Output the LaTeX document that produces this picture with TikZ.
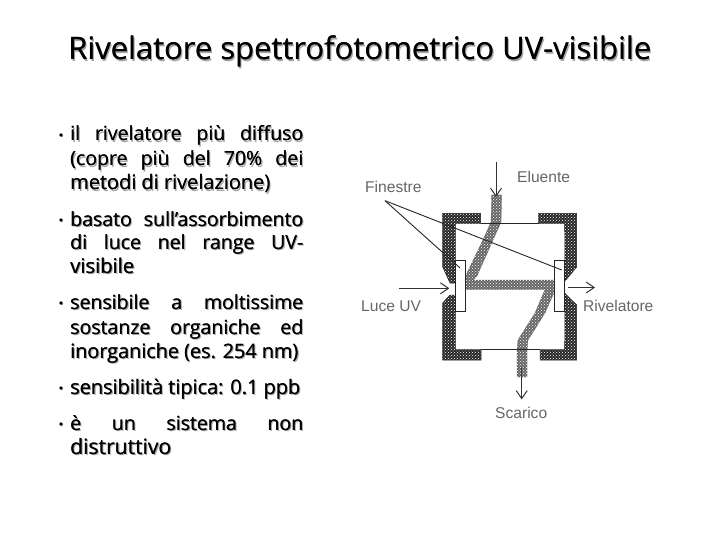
\documentclass[tikz,border=0pt]{standalone}
\usepackage{fontspec}
\usepackage{graphicx}
\setmainfont{Open Sans}
\newfontfamily\labelfont{Liberation Sans}
\usetikzlibrary{patterns,arrows.meta}
\tikzset{
  wall/.style={fill=black!85,draw=black!85,line width=0.5pt},
  liquid/.style={fill=black!60,draw=black!60,line width=0.3pt},
  dots/.style={pattern=crosshatch dots,pattern color=white},
  thin line/.style={draw=black!85,line width=0.8pt},
  arrowline/.style={draw=black!80,line width=1pt,-{Straight Barb[length=8pt,width=11pt]}},
  leader/.style={draw=black!85,line width=0.9pt},
  lab/.style={text=black!60,font=\labelfont\fontsize{15.6}{17}\selectfont,inner sep=0pt},
  body/.style={anchor=base west,inner sep=0pt,font=\fontsize{19.5}{21}\selectfont},
  shadow/.style={body,text=black!35},
}
% name, x left, baseline y, width, text: line scaled to the width
\newcommand{\tline}[5]{%
  \node[shadow] at (#2+1.4,#3+1.4) {\resizebox{#4pt}{!}{#5}};
  \node[body] at (#2+0.35,#3) {\resizebox{#4pt}{!}{#5}};
  \node[body] (#1) at (#2,#3) {\resizebox{#4pt}{!}{#5}};}
% name, x left, baseline y, width, text: word spaces stretched to the width
\newcommand{\jline}[5]{%
  \node[shadow] at (#2+1.4,#3+1.4) {\makebox[#4pt][s]{#5}};
  \node[body] at (#2+0.35,#3) {\makebox[#4pt][s]{#5}};
  \node[body] (#1) at (#2,#3) {\makebox[#4pt][s]{#5}};}
\newcommand{\bul}[3]{%
  \fill[black!35] (#2+1,#3+1) circle (1.4);
  \node[circle,fill=black,inner sep=1.4pt] (#1) at (#2,#3) {};}
\begin{document}
\begin{tikzpicture}[x=1pt,y=-1pt]
\useasboundingbox[fill=white] (0,0) rectangle (720,540);
% title
\tline{title}{68}{60}{583}{\fontsize{27}{30}\selectfont Rivelatore spettrofotometrico UV-visibile}
% bullets
\bul{b1}{61}{135}
\jline{l1}{70}{141}{233}{il rivelatore più diffuso}
\jline{l2}{70}{166}{233}{(copre più del 70\% dei}
\tline{l3}{70}{190}{200}{metodi di rivelazione)}
\bul{b2}{61}{220}
\jline{l4}{70}{226}{233}{basato sull’assorbimento}
\jline{l5}{70}{249}{233}{di luce nel range UV-}
\tline{l6}{70}{273}{64}{visibile}
\bul{b3}{61}{303}
\jline{l7}{70}{309}{233}{sensibile a moltissime}
\jline{l8}{70}{334}{233}{sostanze organiche ed}
\tline{l9}{70}{358}{228}{inorganiche (es. 254 nm)}
\bul{b4}{61}{388}
\tline{l10}{70}{394}{230}{sensibilità tipica: 0.1 ppb}
\bul{b5}{61}{424}
\jline{l11}{70}{430}{233}{è un sistema non}
\tline{l12}{70}{454}{101}{distruttivo}
% cell walls
\foreach \s in {wall,dots}{
  \path[\s] (442.7,213.3)--(480.7,213.3)--(480.7,223.5)--(455.3,223.5)--(455.3,283)--(450,283)--(442.7,267)--cycle;
  \path[\s] (538.7,213.3)--(576.7,213.3)--(576.7,267)--(565,281)--(564.7,223.5)--(538.7,223.5)--cycle;
  \path[\s] (450,295)--(455.3,295)--(455.3,349.5)--(481,349.5)--(481,360)--(442.7,360)--(442.7,303)--cycle;
  \path[\s] (565,293.5)--(576.7,305)--(576.7,360)--(540,360)--(540,349.5)--(564.7,349.5)--cycle;
}
% liquid path
\foreach \s in {liquid,dots}{
  \path[\s] (491.7,195)--(501.7,195)--(501,222)--(493,240)--(477,276)--(473,280)--(554.7,280)--(554.7,291)--(545,313)--(528,340)--(527,350)--(527,377)--(517,377)--(517,350)--(518,340)--(535,313)--(545,289.5)--(465.3,289.5)--(465.3,280)--(467,273)--(483,240)--(491,222)--cycle;
}
% chamber lines
\coordinate (tl) at (480.7,223.3);
\coordinate (tr) at (538.7,223.3);
\coordinate (bl) at (481,349.5);
\coordinate (br) at (540,349.5);
\draw[thin line] (tl) -- (tr);
\draw[thin line] (bl) -- (br);
% windows
\coordinate (wl1) at (455.3,260.7);
\coordinate (wl2) at (465.3,260.7);
\coordinate (wl3) at (465.3,311.7);
\coordinate (wl4) at (455.3,311.7);
\draw[thin line,fill=white] (wl1) -- (wl2) -- (wl3) -- (wl4) -- cycle;
\coordinate (wr1) at (554.7,260.7);
\coordinate (wr2) at (564.7,260.7);
\coordinate (wr3) at (564.7,311.7);
\coordinate (wr4) at (554.7,311.7);
\draw[thin line,fill=white] (wr1) -- (wr2) -- (wr3) -- (wr4) -- cycle;
% labels
\node[lab,anchor=west] (fin) at (365,186.5) {Finestre};
\node[lab,anchor=west] (elu) at (517,177) {Eluente};
\node[lab,anchor=west] (luce) at (361,306) {Luce UV};
\node[lab,anchor=west] (riv) at (583,306) {Rivelatore};
\node[lab,anchor=west] (sca) at (495,413) {Scarico};
% leaders
\coordinate (f0) at (385,200.7);
\coordinate (f1) at (460,268);
\coordinate (f2) at (561.7,270);
\draw[leader] (f0) -- (f1);
\draw[leader] (f0) -- (f2);
% arrows
\coordinate (a1) at (496,162);
\coordinate (a2) at (496,197);
\draw[arrowline] (a1) -- (a2);
\coordinate (b1a) at (521.7,368);
\coordinate (b2a) at (521.7,399.5);
\draw[arrowline] (b1a) -- (b2a);
\coordinate (c1) at (399.3,288.3);
\coordinate (c2) at (449.3,288.3);
\draw[arrowline] (c1) -- (c2);
\coordinate (d1) at (568,287.5);
\coordinate (d2) at (595,287.5);
\draw[arrowline] (d1) -- (d2);
\end{tikzpicture}
\end{document}
